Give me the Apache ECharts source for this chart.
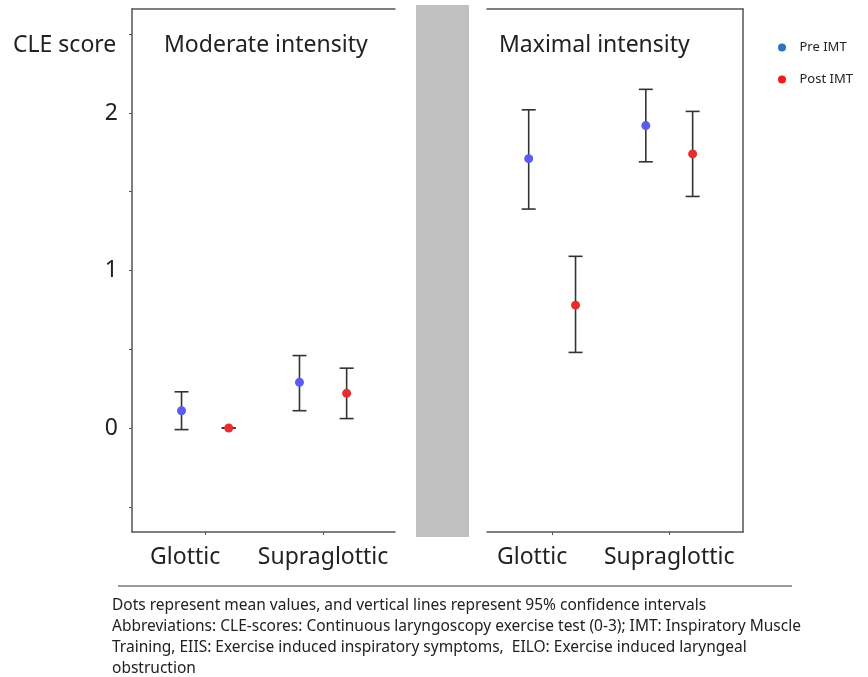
<!DOCTYPE html>
<html>
<head>
<meta charset="utf-8">
<script src="https://cdn.jsdelivr.net/npm/echarts@6/dist/echarts.min.js"></script>
<style>
  html,body{margin:0;padding:0;background:#fff;}
  #main{width:868px;height:677px;}
</style>
</head>
<body>
<div id="main"></div>
<script>
  // data
  var categories = ['Glottic', 'Supraglottic'];
  var yTicks = [-0.5, 0, 0.5, 1, 1.5, 2, 2.5];
  var yLabels = [0, 1, 2];
  // moderate intensity
  var modPreMean = [0.11, 0.29];
  var modPreLow = [-0.01, 0.11];
  var modPreHigh = [0.23, 0.46];
  var modPostMean = [0.0, 0.22];
  var modPostLow = [0.0, 0.06];
  var modPostHigh = [0.0, 0.38];
  // maximal intensity
  var maxPreMean = [1.71, 1.92];
  var maxPreLow = [1.39, 1.69];
  var maxPreHigh = [2.02, 2.15];
  var maxPostMean = [0.78, 1.74];
  var maxPostLow = [0.48, 1.47];
  var maxPostHigh = [1.09, 2.01];

  var footnote = [
    'Dots represent mean values, and vertical lines represent 95% confidence intervals',
    'Abbreviations: CLE-scores: Continuous laryngoscopy exercise test (0-3); IMT: Inspiratory Muscle',
    'Training, EIIS: Exercise induced inspiratory symptoms,  EILO: Exercise induced laryngeal',
    'obstruction'
  ];

  var preColor = '#5b5bf0';
  var postColor = '#e62e2e';
  var offset = 0.2; // pre/post shift around each category

  function points(mean, shift) {
    return mean.map(function (v, i) { return [i + 1 + shift, v]; });
  }
  function bars(low, high, shift) {
    return low.map(function (v, i) { return [i + 1 + shift, v, high[i]]; });
  }
  function errRender(params, api) {
    var x = api.value(0);
    var lo = api.coord([x, api.value(1)]);
    var hi = api.coord([x, api.value(2)]);
    var w = 7;
    var st = { stroke: '#333', lineWidth: 1.6 };
    return {
      type: 'group',
      children: [
        { type: 'line', shape: { x1: lo[0], y1: lo[1], x2: hi[0], y2: hi[1] }, style: st },
        { type: 'line', shape: { x1: lo[0] - w, y1: lo[1], x2: lo[0] + w, y2: lo[1] }, style: st },
        { type: 'line', shape: { x1: hi[0] - w, y1: hi[1], x2: hi[0] + w, y2: hi[1] }, style: st }
      ]
    };
  }
  // the "Glottic" label sits a bit left of its tick in the original
  var labelFmt = function (v) {
    var i = Math.round(v) - 1;
    if (i === 0) return '{g|' + categories[0] + '}';
    return categories[i] || '';
  };
  var txt = '#222';
  var font = 'Noto Sans';

  function bottomAxis(idx, min, max) {
    return {
      type: 'value', gridIndex: idx, min: min, max: max, position: 'bottom',
      splitLine: { show: false },
      axisLine: { show: true, onZero: false, lineStyle: { color: '#555', width: 1.5 } },
      axisTick: { show: true, customValues: [1, 2], length: 3, lineStyle: { color: '#555' } },
      axisLabel: {
        customValues: [1, 2], formatter: labelFmt, fontSize: 23, fontFamily: font, color: txt, margin: 14,
        rich: { g: { fontSize: 23, fontFamily: font, color: txt, padding: [0, 40, 0, 0] } }
      }
    };
  }
  function topAxis(idx, min, max) {
    return {
      type: 'value', gridIndex: idx, min: min, max: max, position: 'top',
      splitLine: { show: false }, axisTick: { show: false }, axisLabel: { show: false },
      axisLine: { show: true, onZero: false, lineStyle: { color: '#555', width: 1.5 } }
    };
  }

  var myChart = echarts.init(document.getElementById('main'));
  var option = {
    backgroundColor: '#fff',
    animation: false,
    title: [
      { text: 'CLE score', left: 8, top: 29, textStyle: { fontSize: 23, fontWeight: 'normal', fontFamily: font, color: txt } },
      { text: 'Moderate intensity', left: 159, top: 29, textStyle: { fontSize: 23, fontWeight: 'normal', fontFamily: font, color: txt } },
      { text: 'Maximal intensity', left: 494, top: 29, textStyle: { fontSize: 23, fontWeight: 'normal', fontFamily: font, color: txt } }
    ],
    legend: {
      orient: 'vertical', left: 773, top: 36, itemGap: 19,
      itemWidth: 11, itemHeight: 8,
      icon: 'path://M0,5A5,5,0,1,0,10,5A5,5,0,1,0,0,5Z',
      textStyle: { fontSize: 13, fontFamily: font, color: txt, padding: [0, 0, 0, 7] },
      data: [
        { name: 'Pre IMT', itemStyle: { color: '#2e72c4' } },
        { name: 'Post IMT', itemStyle: { color: '#ee1c1c' } }
      ]
    },
    grid: [
      { left: 132, top: 9, width: 263, height: 523 },
      { left: 487, top: 9, width: 256, height: 523 }
    ],
    xAxis: [
      bottomAxis(0, 0.38, 2.61),
      bottomAxis(1, 0.444, 2.63),
      topAxis(0, 0.38, 2.61),
      topAxis(1, 0.444, 2.63)
    ],
    yAxis: [
      {
        type: 'value', gridIndex: 0, min: -0.66, max: 2.66,
        splitLine: { show: false },
        axisLine: { show: true, onZero: false, lineStyle: { color: '#555', width: 1.5 } },
        axisTick: { show: true, customValues: yTicks, length: 3, lineStyle: { color: '#555' } },
        axisLabel: { customValues: yLabels, fontSize: 23, fontFamily: font, color: txt, margin: 14 }
      },
      {
        type: 'value', gridIndex: 1, min: -0.66, max: 2.66,
        splitLine: { show: false }, axisLine: { show: false }, axisTick: { show: false }, axisLabel: { show: false }
      },
      {
        type: 'value', gridIndex: 1, min: -0.66, max: 2.66, position: 'right',
        splitLine: { show: false }, axisTick: { show: false }, axisLabel: { show: false },
        axisLine: { show: true, onZero: false, lineStyle: { color: '#555', width: 1.5 } }
      }
    ],
    series: [
      { type: 'custom', xAxisIndex: 0, yAxisIndex: 0, renderItem: errRender, data: bars(modPreLow, modPreHigh, -offset), z: 2, silent: true },
      { type: 'custom', xAxisIndex: 0, yAxisIndex: 0, renderItem: errRender, data: bars(modPostLow, modPostHigh, offset), z: 2, silent: true },
      { type: 'custom', xAxisIndex: 1, yAxisIndex: 1, renderItem: errRender, data: bars(maxPreLow, maxPreHigh, -offset), z: 2, silent: true },
      { type: 'custom', xAxisIndex: 1, yAxisIndex: 1, renderItem: errRender, data: bars(maxPostLow, maxPostHigh, offset), z: 2, silent: true },
      { name: 'Pre IMT', type: 'scatter', xAxisIndex: 0, yAxisIndex: 0, symbolSize: 9, itemStyle: { color: preColor, opacity: 1 }, data: points(modPreMean, -offset), z: 3 },
      { name: 'Post IMT', type: 'scatter', xAxisIndex: 0, yAxisIndex: 0, symbolSize: 9, itemStyle: { color: postColor, opacity: 1 }, data: points(modPostMean, offset), z: 3 },
      { name: 'Pre IMT', type: 'scatter', xAxisIndex: 1, yAxisIndex: 1, symbolSize: 9, itemStyle: { color: preColor, opacity: 1 }, data: points(maxPreMean, -offset), z: 3 },
      { name: 'Post IMT', type: 'scatter', xAxisIndex: 1, yAxisIndex: 1, symbolSize: 9, itemStyle: { color: postColor, opacity: 1 }, data: points(maxPostMean, offset), z: 3 }
    ],
    graphic: [
      // grey separator between the panels
      { type: 'rect', shape: { x: 416, y: 5, width: 53, height: 532 }, style: { fill: '#c0c0c0' }, silent: true },
      // footnote rule and text
      { type: 'line', shape: { x1: 118, y1: 586, x2: 792, y2: 586 }, style: { stroke: '#333', lineWidth: 1 }, silent: true },
      { type: 'text', left: 112, top: 595, style: { text: footnote.join('\n'), fontSize: 15.5, lineHeight: 21, fontFamily: font, fill: '#222' }, silent: true }
    ]
  };
  myChart.setOption(option);
</script>
</body>
</html>
